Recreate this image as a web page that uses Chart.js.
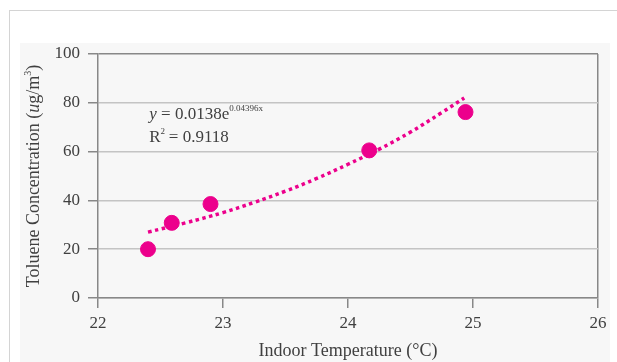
<!DOCTYPE html>
<html>
<head>
<meta charset="utf-8">
<script src="https://cdn.jsdelivr.net/npm/chart.js@4"></script>
<style>
  body { margin: 0; background: #fff; }
  #frame { position: absolute; left: 9px; top: 10px; width: 608px; height: 352px;
           border-top: 1px solid #d4d4d4; border-left: 1px solid #d4d4d4; }
  #panel { position: absolute; left: 20px; top: 43px; width: 590px; height: 319px; background: #f7f7f7; }
  #chart { position: absolute; left: 0; top: 0; }
</style>
</head>
<body>
<div id="frame"></div>
<div id="panel"></div>
<canvas id="chart" width="617" height="362"></canvas>
<script>
// measured points (indoor temp vs toluene)
const tempValues = [22.4, 22.59, 22.9, 24.17, 24.94];
const tolueneValues = [20, 30.8, 38.5, 60.5, 76.2];

// dotted trend line
const trendTemps = [22.4, 22.7, 23.0, 23.25, 23.5, 23.75, 24.0, 24.25, 24.5, 24.75, 24.93];
const trendValues = [27, 30.8, 35, 39.2, 43.8, 49, 54.8, 61, 68, 76, 82];

const xTicks = [22, 23, 24, 25, 26];
const yTicks = [0, 20, 40, 60, 80, 100];

const pink = '#ec008c';
const axisColor = '#888';
const textColor = '#404040';
const serif = "'Liberation Serif', 'Times New Roman', serif";

const toXY = (xs, ys) => xs.map((x, i) => ({ x: x, y: ys[i] }));

// equation + y title with italic parts
const textPlugin = {
    id: 'textPlugin',
    afterDraw(chart) {
        const ctx = chart.ctx;
        const xs = chart.scales.x, ys = chart.scales.y;
        ctx.save();
        ctx.fillStyle = textColor;
        ctx.textBaseline = 'alphabetic';

        let x = xs.getPixelForValue(22.41);
        let y = ys.getPixelForValue(73.4);
        ctx.font = 'italic 17px ' + serif;
        ctx.fillText('y', x, y);
        x += ctx.measureText('y').width;
        ctx.font = '17px ' + serif;
        ctx.fillText(' = 0.0138e', x, y);
        x += ctx.measureText(' = 0.0138e').width;
        ctx.font = '9px ' + serif;
        ctx.fillText('0.04396x', x, y - 8);

        x = xs.getPixelForValue(22.41);
        y += 23;
        ctx.font = '17px ' + serif;
        ctx.fillText('R', x, y);
        let w = ctx.measureText('R').width;
        ctx.font = '9px ' + serif;
        ctx.fillText('2', x + w, y - 8);
        ctx.font = '17px ' + serif;
        ctx.fillText(' = 0.9118', x + w + 4, y);

        // y axis title
        const parts = [['Toluene Concentration (', ''], ['u', 'italic '], ['g/m', ''], ['3', 'sup'], [')', '']];
        ctx.translate(34, (chart.chartArea.top + chart.chartArea.bottom) / 2);
        ctx.rotate(-Math.PI / 2);
        ctx.textBaseline = 'middle';
        let total = 0;
        parts.forEach(p => {
            ctx.font = p[1] === 'sup' ? '10px ' + serif : p[1] + '18px ' + serif;
            total += ctx.measureText(p[0]).width;
        });
        let px = -total / 2;
        parts.forEach(p => {
            ctx.font = p[1] === 'sup' ? '10px ' + serif : p[1] + '18px ' + serif;
            ctx.fillText(p[0], px, p[1] === 'sup' ? -6 : 0);
            px += ctx.measureText(p[0]).width;
        });
        ctx.restore();
    }
};

new Chart(document.getElementById('chart'), {
    type: 'scatter',
    data: {
        datasets: [{
            label: 'Toluene',
            data: toXY(tempValues, tolueneValues),
            backgroundColor: pink,
            borderColor: pink,
            pointRadius: 7.5,
            order: 0
        }, {
            label: 'Trend',
            type: 'line',
            data: toXY(trendTemps, trendValues),
            borderColor: pink,
            borderWidth: 3.5,
            borderDash: [3.5, 3.5],
            borderCapStyle: 'butt',
            pointRadius: 0,
            tension: 0.4,
            fill: false,
            order: 1
        }]
    },
    options: {
        responsive: false,
        animation: false,
        layout: { padding: { left: 0, top: 54, right: 19, bottom: 0 } },
        plugins: { legend: { display: false }, tooltip: { enabled: false } },
        scales: {
            x: {
                type: 'linear',
                min: 22, max: 26,
                afterBuildTicks: s => { s.ticks = xTicks.map(v => ({ value: v })); },
                afterFit: s => { s.height = 64; },
                border: { color: axisColor, width: 1.5 },
                grid: {
                    color: c => (c.tick && c.tick.value === 26) ? axisColor : 'rgba(0,0,0,0)',
                    lineWidth: 1.5,
                    tickColor: axisColor,
                    tickLength: 10
                },
                ticks: { color: textColor, padding: 5, font: { family: serif, size: 17 } },
                title: {
                    display: true,
                    text: 'Indoor Temperature (°C)',
                    color: textColor,
                    padding: { top: 0, bottom: 0 },
                    font: { family: serif, size: 18 }
                }
            },
            y: {
                min: 0, max: 100,
                afterBuildTicks: s => { s.ticks = yTicks.map(v => ({ value: v })); },
                afterFit: s => { s.width = 98; },
                border: { color: axisColor, width: 1.5 },
                grid: {
                    color: c => (c.tick && c.tick.value === 100) ? axisColor : '#c4c4c4',
                    lineWidth: 1.5,
                    tickColor: axisColor,
                    tickLength: 10
                },
                ticks: { color: textColor, padding: 8, font: { family: serif, size: 17 } }
            }
        }
    },
    plugins: [textPlugin]
});
</script>
</body>
</html>
